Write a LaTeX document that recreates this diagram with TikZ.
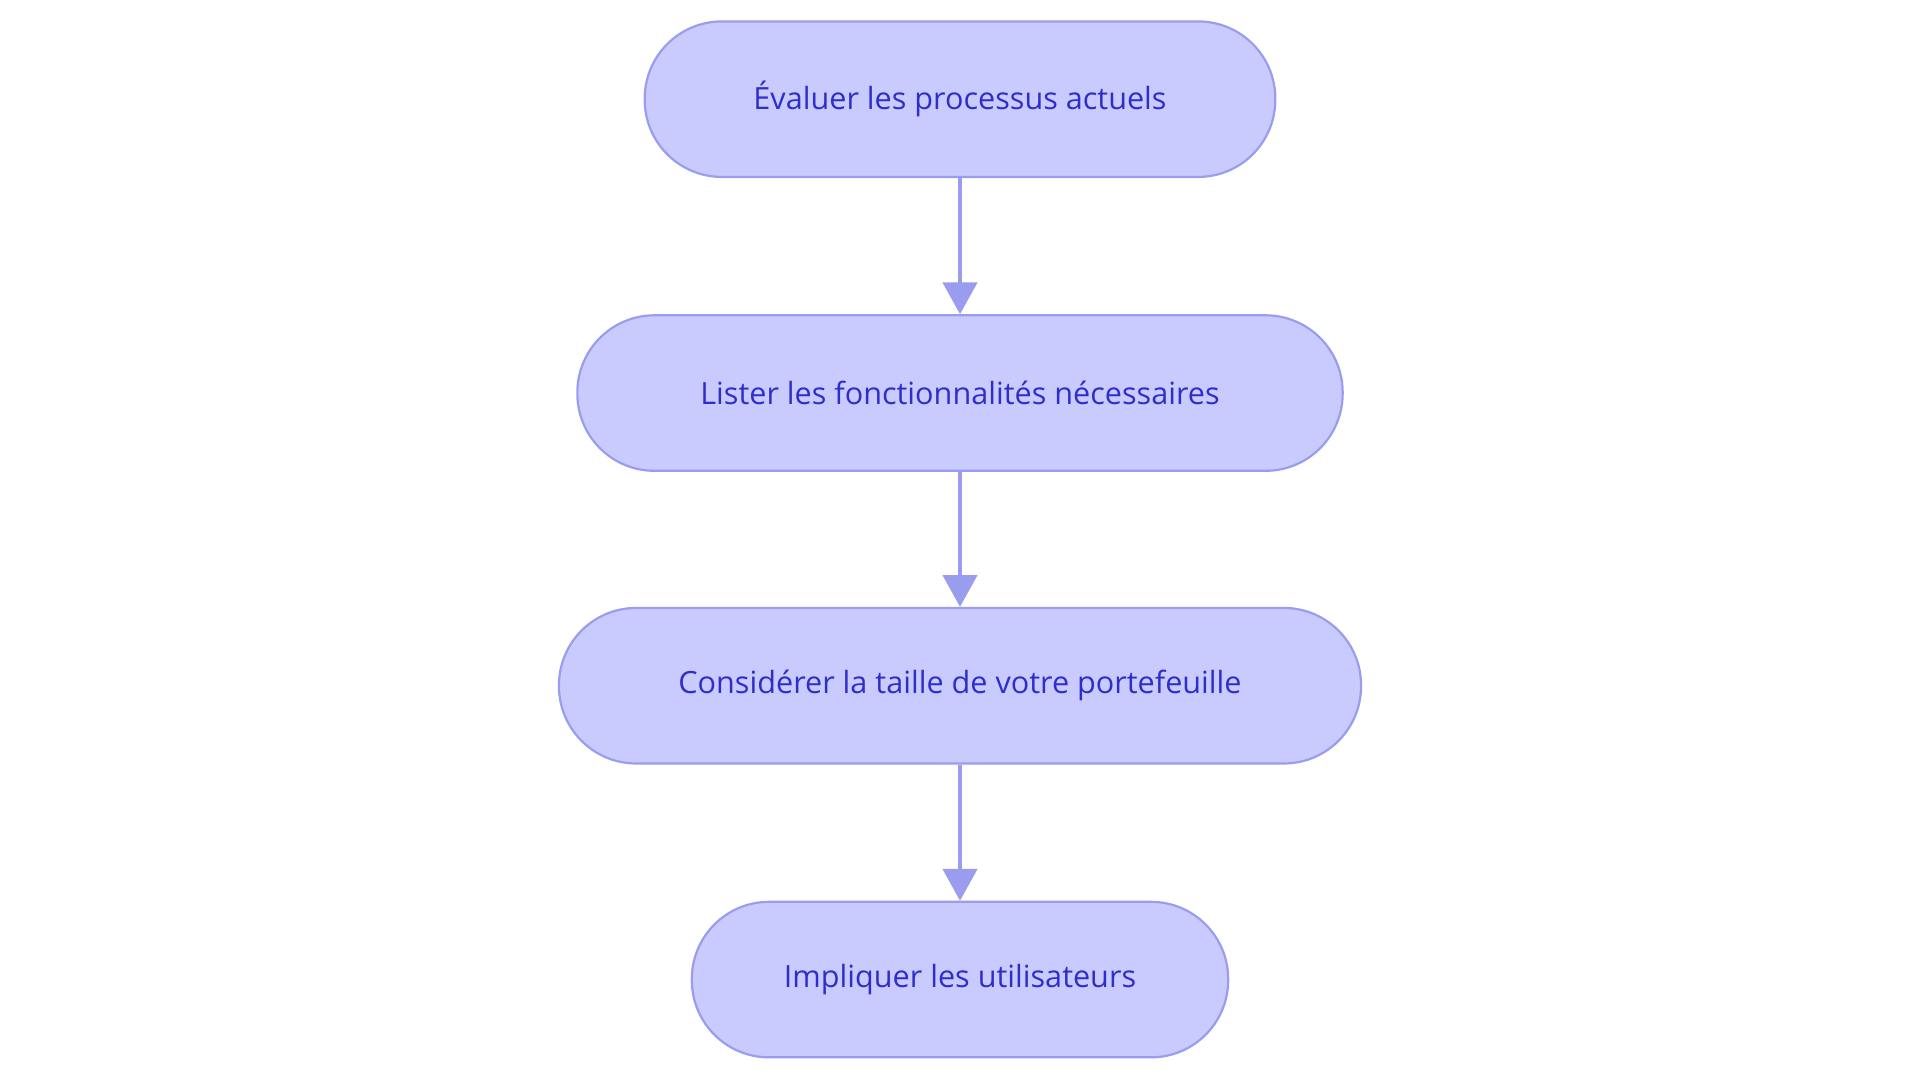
\documentclass[tikz,border=0pt]{standalone}
\usepackage{fontspec}
\setmainfont{Open Sans}
\usetikzlibrary{arrows.meta}
\definecolor{fillc}{HTML}{C9CBFE}
\definecolor{drawc}{HTML}{9A9DEE}
\definecolor{textc}{HTML}{2E2ECC}
\begin{document}
\begin{tikzpicture}[x=1pt,y=1pt,
  box/.style={draw=drawc,line width=1.8pt,fill=fillc,rounded corners=63pt,minimum height=127pt,text=textc,font=\fontsize{25}{30}\selectfont,inner sep=0pt},
  arr/.style={draw=drawc,line width=3pt,-{Triangle[length=26pt,width=28pt]}}]
\useasboundingbox (0,0) rectangle (1568,884);
\node[box,minimum width=515pt] (a) at (784,803) {Évaluer les processus actuels};
\node[box,minimum width=625pt] (b) at (784,563) {Lister les fonctionnalités nécessaires};
\node[box,minimum width=655pt] (c) at (784,324) {Considérer la taille de votre portefeuille};
\node[box,minimum width=438pt] (d) at (784,84) {Impliquer les utilisateurs};
\draw[arr] (a) -- (b);
\draw[arr] (b) -- (c);
\draw[arr] (c) -- (d);
\end{tikzpicture}
\end{document}
